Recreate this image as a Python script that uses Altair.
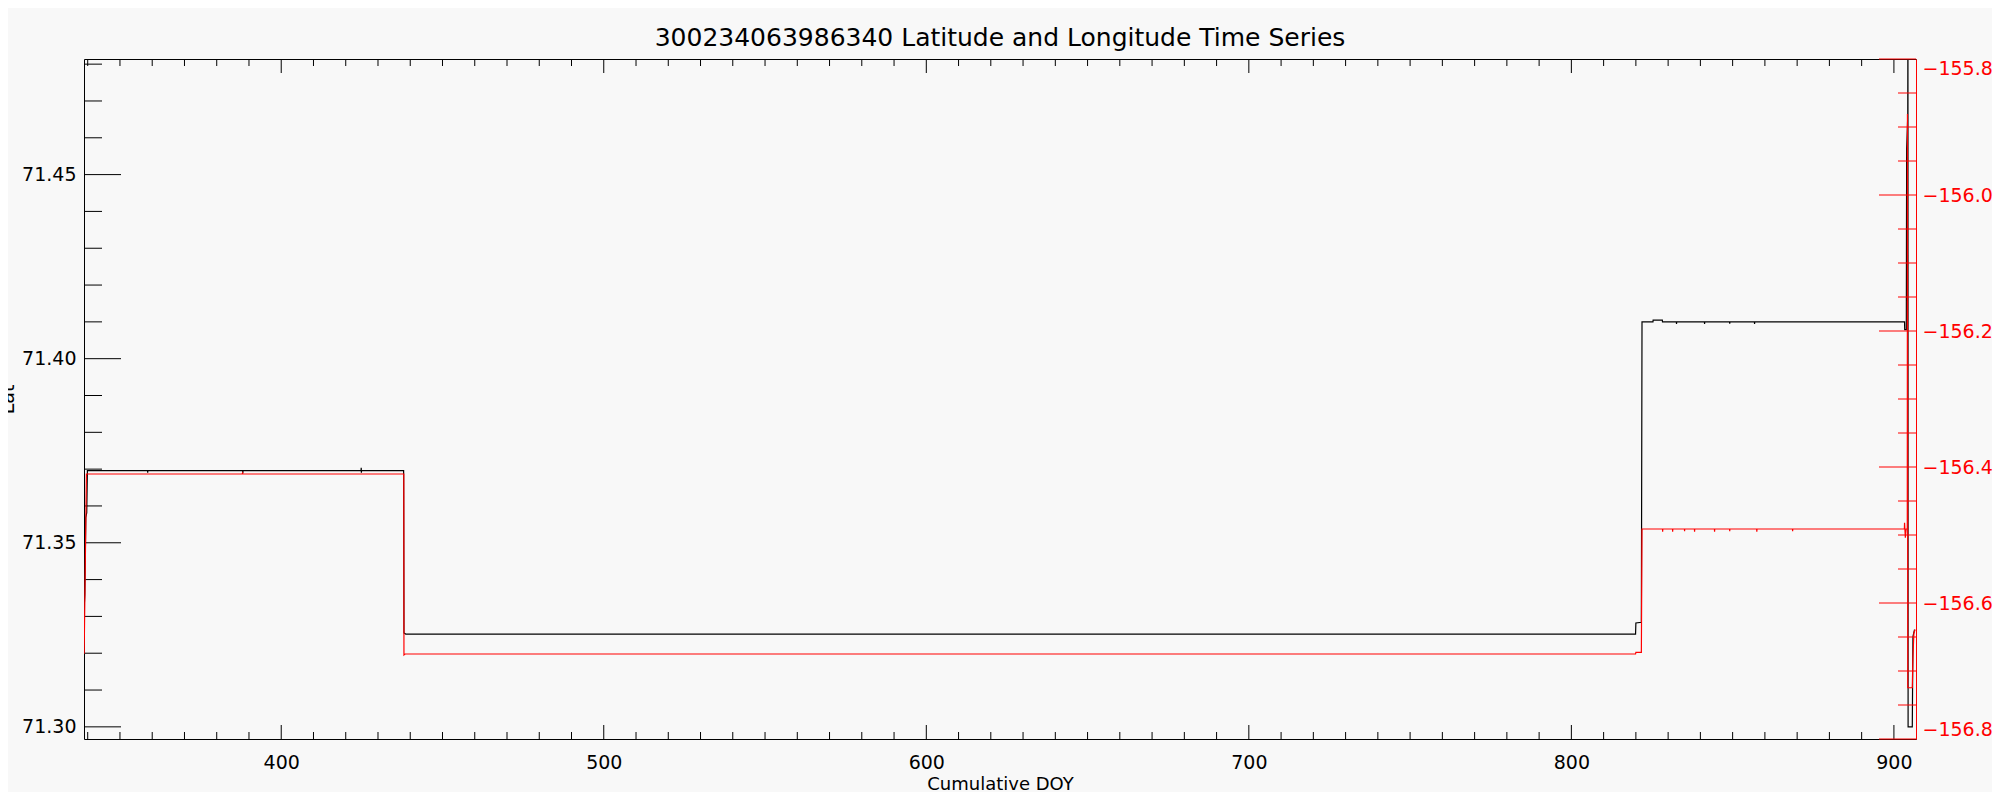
import altair as alt
import pandas as pd

TITLE = "300234063986340 Latitude and Longitude Time Series"
X_TITLE = "Cumulative DOY"
Y_LEFT_TITLE = "Lat"

# Latitude series (black, left axis)
lat_doy = [338.90, 339.10, 339.40, 339.70, 339.90,
           358.55, 358.60, 358.65, 388.05, 388.10, 388.15,
           424.75, 424.80, 424.85, 424.90, 437.95,
           438.05, 438.60, 819.90, 820.00, 821.70, 821.90,
           825.30, 825.35, 828.20, 828.25,
           832.55, 832.60, 832.65, 841.25, 841.30, 841.35,
           849.05, 849.10, 849.15, 856.75, 856.80, 856.85,
           903.30, 903.35, 903.85, 903.95, 904.30, 904.35, 904.40,
           905.70, 905.90, 906.40]
lat_val = [71.3323, 71.3359, 71.3568, 71.3582, 71.3696,
           71.3696, 71.3690, 71.3696, 71.3696, 71.3689, 71.3696,
           71.3696, 71.3704, 71.3690, 71.3696, 71.3696,
           71.3255, 71.3252, 71.3252, 71.3282, 71.3284, 71.4100,
           71.4100, 71.4105, 71.4105, 71.4100,
           71.4100, 71.4094, 71.4100, 71.4100, 71.4094, 71.4100,
           71.4100, 71.4095, 71.4100, 71.4100, 71.4094, 71.4100,
           71.4100, 71.4079, 71.4079, 71.4570, 71.4660, 71.5000, 71.3000,
           71.3000, 71.3245, 71.3264]

# Longitude series (red, right axis)
lon_doy = [338.90, 339.60, 387.90, 388.00, 388.10, 438.00,
           438.05, 438.40, 819.90, 820.00, 821.70, 821.90,
           828.25, 828.30, 828.35, 831.35, 831.40, 831.45,
           835.05, 835.10, 835.15, 838.15, 838.20, 838.25,
           844.35, 844.40, 844.45, 849.05, 849.10, 849.15,
           857.45, 857.50, 857.55, 868.55, 868.60, 868.65,
           903.25, 903.30, 903.55, 903.80, 904.15, 904.20, 904.30,
           905.70, 905.90, 906.20, 906.60]
lon_val = [-156.6746, -156.4103, -156.4103, -156.4090, -156.4103, -156.4103,
           -156.6765, -156.6750, -156.6750, -156.6726, -156.6726, -156.4912,
           -156.4912, -156.4950, -156.4912, -156.4912, -156.4950, -156.4912,
           -156.4912, -156.4945, -156.4912, -156.4912, -156.4950, -156.4912,
           -156.4912, -156.4950, -156.4912, -156.4912, -156.4945, -156.4912,
           -156.4912, -156.4950, -156.4912, -156.4912, -156.4945, -156.4912,
           -156.4912, -156.4820, -156.5040, -156.4912, -156.4912, -155.8810, -156.7246,
           -156.7246, -156.6790, -156.6440, -156.6390]

x_domain = [338.85, 906.85]
lat_domain = [71.2967, 71.4814]
lon_domain = [-156.8, -155.8]

x_major = [400, 500, 600, 700, 800, 900]
x_minor = [v for v in range(340, 901, 10) if v % 100 != 0]
lat_major = [71.30, 71.35, 71.40, 71.45]
lat_minor = [71.31, 71.32, 71.33, 71.34, 71.36, 71.37, 71.38, 71.39,
             71.41, 71.42, 71.43, 71.44, 71.46, 71.47, 71.48]
lon_major = [-156.8, -156.6, -156.4, -156.2, -156.0, -155.8]
lon_minor = [-156.75, -156.70, -156.65, -156.55, -156.50, -156.45,
             -156.35, -156.30, -156.25, -156.15, -156.10, -156.05,
             -155.95, -155.90, -155.85]

W, H = 1832, 680
FONT = "DejaVu Sans"
FS = 19

x_scale = alt.Scale(domain=x_domain, nice=False, zero=False)
lat_scale = alt.Scale(domain=lat_domain, nice=False, zero=False)
lon_scale = alt.Scale(domain=lon_domain, nice=False, zero=False)

ax_x = alt.Axis(orient="bottom", values=x_major, format="d", ticks=False, tickSize=0,
                domain=False, grid=False, labelFlush=False,
                labelFont=FONT, labelFontSize=FS, labelColor="black",
                labelBaseline="alphabetic", labelPadding=29,
                title=X_TITLE, titleFont=FONT, titleFontSize=18, titleFontWeight="normal",
                titleColor="black", titleBaseline="alphabetic", titleY=50)
ax_left = alt.Axis(orient="left", values=lat_major, format=".2f", ticks=False, tickSize=0,
                   domain=False, grid=False, labelFlush=False,
                   labelFont=FONT, labelFontSize=FS, labelColor="black", labelPadding=8,
                   title=Y_LEFT_TITLE, titleFont=FONT, titleFontSize=FS,
                   titleFontWeight="normal", titleColor="black", titleAngle=270,
                   titleBaseline="alphabetic", titleX=-71, titleY=H / 2)
ax_right = alt.Axis(orient="right", values=lon_major, format=".1f", ticks=False, tickSize=0,
                    domain=True, domainColor="red", domainWidth=1, grid=False,
                    labelFlush=True, labelFont=FONT, labelFontSize=FS, labelColor="red",
                    labelPadding=6, title=None)

df_lat = pd.DataFrame({"doy": lat_doy, "lat": lat_val})
df_lon = pd.DataFrame({"doy": lon_doy, "lon": lon_val})

X = alt.X("doy:Q", scale=x_scale, axis=ax_x)

black_line = alt.Chart(df_lat).mark_line(color="black", strokeWidth=1.2, clip=True).encode(
    x=X, y=alt.Y("lat:Q", scale=lat_scale, axis=ax_left))
red_line = alt.Chart(df_lon).mark_line(color="red", strokeWidth=1.2, clip=True).encode(
    x=X, y=alt.Y("lon:Q", scale=lon_scale, axis=ax_right))


def xticks(vals, y0, y1):
    return alt.Chart(pd.DataFrame({"v": vals})).mark_rule(color="black", strokeWidth=1).encode(
        x=alt.X("v:Q", scale=x_scale, axis=ax_x), y=alt.value(y0), y2=alt.value(y1))


def yticks(vals, scale, axis, x0, x1, color):
    return alt.Chart(pd.DataFrame({"v": vals})).mark_rule(color=color, strokeWidth=1).encode(
        y=alt.Y("v:Q", scale=scale, axis=axis), x=alt.value(x0), x2=alt.value(x1))


left_group = alt.layer(
    black_line,
    xticks(x_major, H, H - 14), xticks(x_minor, H, H - 7),
    xticks(x_major, 0, 14), xticks(x_minor, 0, 7),
    yticks(lat_major, lat_scale, ax_left, 0, 37, "black"),
    yticks(lat_minor, lat_scale, ax_left, 0, 18, "black"),
)
right_group = alt.layer(
    red_line,
    yticks(lon_major, lon_scale, ax_right, W, W - 37, "red"),
    yticks(lon_minor, lon_scale, ax_right, W, W - 18, "red"),
)

chart = alt.layer(left_group, right_group).resolve_scale(y="independent").properties(
    width=W, height=H,
    padding={"left": 76, "top": 51, "right": 76, "bottom": 53},
    autosize=alt.AutoSizeParams(type="none"),
    background="#f8f8f8",
    title=alt.TitleParams(TITLE, font=FONT, fontSize=25, fontWeight="normal", color="black",
                          anchor="middle", frame="group", baseline="alphabetic", offset=11,
                          dy=23),
).configure_view(stroke="black", strokeWidth=1)

chart.save("out.html", embed_options={"renderer": "svg", "actions": False})
